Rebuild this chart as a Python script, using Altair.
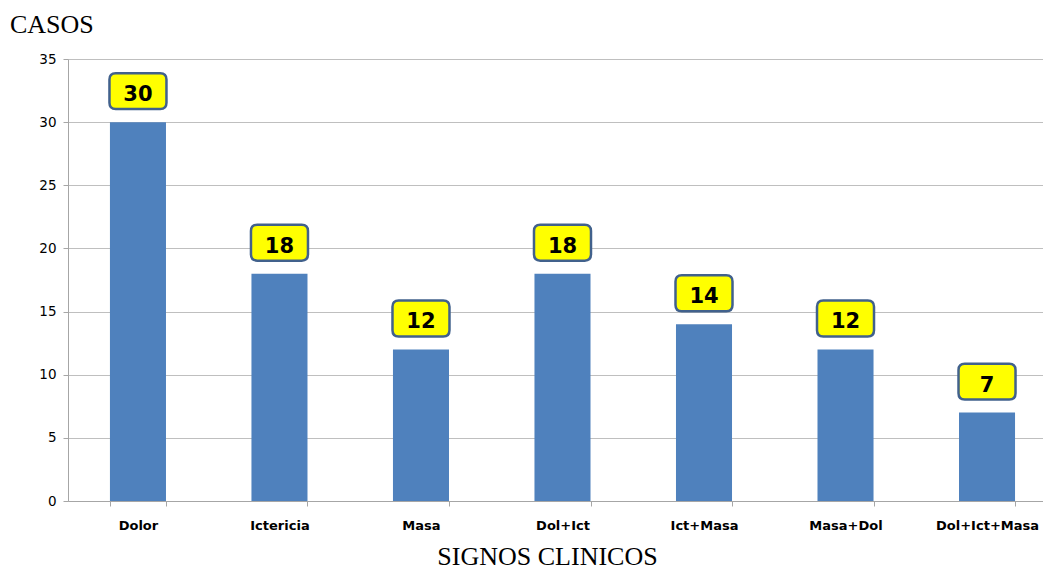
import altair as alt
import pandas as pd

categories = ["Dolor", "Ictericia", "Masa", "Dol+Ict", "Ict+Masa", "Masa+Dol", "Dol+Ict+Masa"]
casos = [30, 18, 12, 18, 14, 12, 7]
y_title = "CASOS"
x_title = "SIGNOS CLINICOS"

df = pd.DataFrame({"cat": categories, "val": casos})

# rounded rectangle path in unit square (-1..1)
hw = 1.0
hh = 0.63
r = 0.22
box_path = (
    f"M{-hw + r},{-hh} L{hw - r},{-hh} Q{hw},{-hh} {hw},{-hh + r} "
    f"L{hw},{hh - r} Q{hw},{hh} {hw - r},{hh} L{-hw + r},{hh} "
    f"Q{-hw},{hh} {-hw},{hh - r} L{-hw},{-hh + r} Q{-hw},{-hh} {-hw + r},{-hh} Z"
)

x_enc = alt.X(
    "cat:N",
    sort=categories,
    scale=alt.Scale(paddingInner=0.604, paddingOuter=0.247, align=0.6),
    axis=alt.Axis(
        title=x_title,
        titleFont="Liberation Serif",
        titleFontSize=26,
        titleFontWeight="normal",
        titleColor="#000000",
        titleX=479,
        titleY=63,
        titleBaseline="alphabetic",
        labelAngle=0,
        labelFont="DejaVu Sans",
        labelFontWeight="bold",
        labelFontSize=13,
        labelColor="#000000",
        labelPadding=13,
        domainColor="#A6A6A6",
        tickColor="#A6A6A6",
        tickSize=5,
        tickBand="extent",
        grid=False,
    ),
)

y_scale = alt.Scale(domain=[0, 35], nice=False)

bars = alt.Chart(df).mark_bar(color="#4F81BD").encode(
    x=x_enc,
    y=alt.Y(
        "val:Q",
        scale=y_scale,
        axis=alt.Axis(
            title=None,
            values=[0, 5, 10, 15, 20, 25, 30, 35],
            labelFont="DejaVu Sans",
            labelFontSize=13.5,
            labelColor="#000000",
            labelPadding=7,
            domainColor="#A6A6A6",
            tickColor="#A6A6A6",
            tickSize=5,
            grid=True,
            gridColor="#BFBFBF",
            gridWidth=1,
        ),
    ),
)

boxes = alt.Chart(df).mark_point(
    shape=box_path,
    size=57 * 57,
    filled=True,
    fill="#FFFF00",
    stroke="#41618C",
    strokeWidth=2.5,
    opacity=1,
    yOffset=-31,
).encode(
    x=alt.X("cat:N", sort=categories),
    y=alt.Y("val:Q", scale=y_scale),
)

texts = alt.Chart(df).mark_text(
    font="DejaVu Sans",
    fontWeight="bold",
    fontSize=21,
    color="#000000",
    baseline="middle",
    align="center",
    yOffset=-27,
).encode(
    x=alt.X("cat:N", sort=categories),
    y=alt.Y("val:Q", scale=y_scale),
    text="val:Q",
)

y_title_mark = alt.Chart(pd.DataFrame({"t": [y_title]})).mark_text(
    font="Liberation Serif",
    fontSize=26,
    color="#000000",
    align="left",
    baseline="alphabetic",
).encode(
    x=alt.value(-58),
    y=alt.value(-26),
    text="t:N",
)

chart = (
    alt.layer(bars, boxes, texts, y_title_mark)
    .properties(
        width=975,
        height=442,
        autosize=alt.AutoSizeParams(type="none"),
        padding={"left": 68, "top": 59, "right": 0, "bottom": 69},
    )
    .configure_view(stroke=None)
    .configure(background="#FFFFFF")
)

chart.save("out.html", embed_options={"renderer": "svg", "actions": False})
